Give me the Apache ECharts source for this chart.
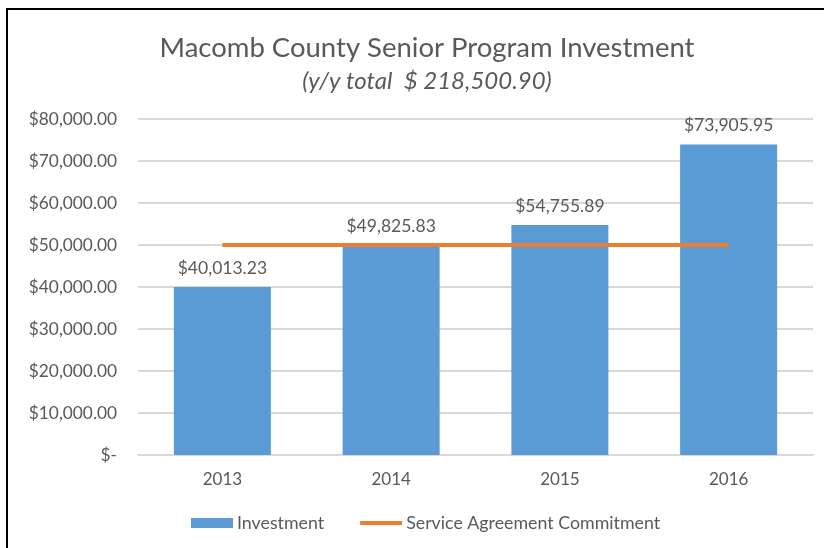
<!DOCTYPE html>
<html>
<head>
<meta charset="utf-8">
<script src="https://cdn.jsdelivr.net/npm/echarts@6/dist/echarts.min.js"></script>
<style>
  html, body { margin: 0; padding: 0; background: #fff; }
  #main1 { width: 824px; height: 548px; }
  #frame {
    position: absolute; left: 6px; top: 8px; width: 830px; height: 560px;
    border-top: 2px solid #000; border-left: 2px solid #000;
    pointer-events: none;
  }
</style>
</head>
<body>
<div id="main1"></div>
<div id="frame"></div>
<script>
const years = ["2013", "2014", "2015", "2016"];
const investment = [40013.23, 49825.83, 54755.89, 73905.95];
const commitment = [50000, 50000, 50000, 50000];
const yTicks = [0, 10000, 20000, 30000, 40000, 50000, 60000, 70000, 80000];

const FONT = "Lato";
const money = (v) =>
  "$" + v.toLocaleString("en-US", { minimumFractionDigits: 2, maximumFractionDigits: 2 });

const option = {
  backgroundColor: "#fff",
  textStyle: { fontFamily: FONT },
  title: [
    {
      text: "Macomb County Senior Program Investment",
      left: 422,
      top: 29,
      textAlign: "center",
      textStyle: { fontFamily: FONT, fontSize: 27.5, fontWeight: "normal", color: "#595959" },
    },
    {
      text: "(y/y total  $ 218,500.90)",
      left: 422,
      top: 64,
      textAlign: "center",
      textStyle: { fontFamily: FONT, fontSize: 24, fontStyle: "italic", fontWeight: "normal", color: "#595959" },
    },
  ],
  legend: {
    bottom: 11,
    left: 186,
    itemGap: 36,
    itemWidth: 42,
    itemHeight: 10,
    textStyle: { fontFamily: FONT, fontSize: 17.8, color: "#595959", padding: [0, 0, 0, -1] },
    data: [
      { name: "Investment", icon: "rect" },
      { name: "Service Agreement Commitment", icon: "path://M0 0H42V4H0Z" },
    ],
  },
  grid: { left: 138, right: 11, top: 119, bottom: 93 },
  xAxis: {
    type: "category",
    data: years,
    axisTick: { show: false },
    axisLine: { lineStyle: { color: "#d9d9d9", width: 2 } },
    axisLabel: { fontFamily: FONT, fontSize: 17, color: "#595959", margin: 16 },
  },
  yAxis: {
    type: "value",
    min: yTicks[0],
    max: yTicks[yTicks.length - 1],
    interval: 10000,
    axisLine: { show: false },
    axisTick: { show: false },
    splitLine: { lineStyle: { color: "#d9d9d9", width: 2 } },
    axisLabel: {
      fontFamily: FONT,
      fontSize: 17.3,
      color: "#595959",
      margin: 21,
      formatter: (v) => (v === 0 ? "$-" : money(v)),
    },
  },
  series: [
    {
      name: "Investment",
      type: "bar",
      data: investment,
      barWidth: 97,
      itemStyle: { color: "#5B9BD5" },
      label: {
        show: true,
        position: "top",
        distance: 10,
        fontFamily: FONT,
        fontSize: 17.5,
        color: "#595959",
        formatter: (p) => money(p.value),
      },
    },
    {
      name: "Service Agreement Commitment",
      type: "line",
      data: commitment,
      symbol: "none",
      lineStyle: { color: "#ED7D31", width: 4 },
      itemStyle: { color: "#ED7D31" },
      z: 3,
    },
  ],
};

const myChart = echarts.init(document.getElementById("main1"));
myChart.setOption(option);
</script>
</body>
</html>
